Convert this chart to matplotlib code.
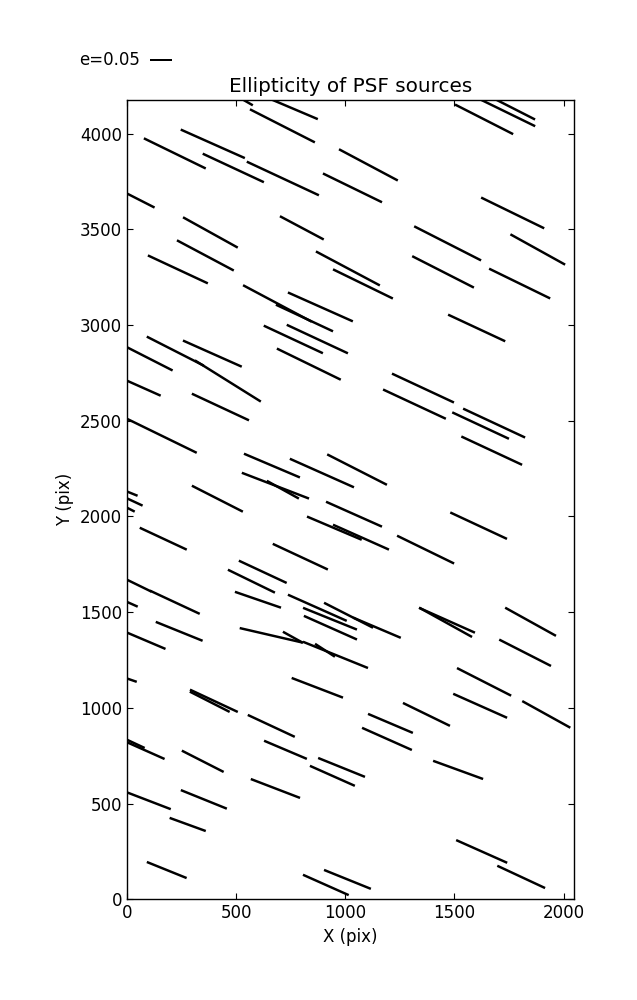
import numpy as np
import matplotlib
matplotlib.use("Agg")
import matplotlib.pyplot as plt

# PSF star positions (pix), ellipticity and whisker angle (deg, on the plot)
x_pix = [478, 746, 712, 393, 219, 487, 714, 1106, 1033, 35,
         382, 801, 359, 233, 1012, 1081, 1636, 1721, 1751, 1767,
         1469, 1882, 1448, 1799, 689, 813, 886, 762, 872, 833,
         221, 391, 462, 83, 56, 428, 1602, 1356, 1317, 1620,
         1682, 1671, 139, 664, 893, 1054, 680, 714, 414, -38,
         -27, -45, 1040, 950, 1072, 166, 794, 622, 570, 1611,
         1368, 28, 219, -38, 600, 872, 1015, 930, 932, 661,
         760, 955, 907, 239, 67, -29, 398, 379, 661, 872,
         1466, 1460, 1849, 1824, 1636, 1618, 1921, 1372, 1207, 1191,
         1, 58, 347, 726, 983, 941, 680, 352, 79, 278,
         182, 911, 1010, 1517, 1625, 1806, 1145]
y_pix = [4213, 4138, 4041, 3947, 3897, 3821, 3766, 3837, 3717, 3667,
         3484, 3508, 3364, 3291, 3296, 3215, 4075, 4122, 4143, 3586,
         3427, 3395, 3278, 3217, 3113, 3037, 3095, 2925, 2927, 2796,
         2864, 2851, 2708, 2836, 2681, 2572, 2985, 2671, 2587, 2475,
         2488, 2344, 2433, 2266, 2227, 2245, 2161, 2140, 2093, 2148,
         2109, 2072, 2012, 1939, 1892, 1884, 1790, 1711, 1662, 1952,
         1827, 1654, 1552, 1573, 1565, 1523, 1484, 1466, 1419, 1379,
         1369, 1277, 1301, 1400, 1361, 1165, 1037, 1032, 906, 1105,
         1458, 1447, 1450, 1288, 1136, 1011, 966, 966, 919, 838,
         833, 791, 721, 781, 689, 645, 579, 522, 524, 391,
         153, 75, 104, 676, 250, 117, 1419]
e_psf = [0.111, 0.136, 0.163, 0.157, 0.154, 0.151, 0.178, 0.149, 0.147, 0.100,
         0.140, 0.111, 0.144, 0.148, 0.162, 0.149, 0.146, 0.162, 0.130, 0.157,
         0.168, 0.140, 0.155, 0.152, 0.174, 0.141, 0.159, 0.146, 0.151, 0.159,
         0.143, 0.144, 0.174, 0.138, 0.105, 0.141, 0.141, 0.153, 0.155, 0.140,
         0.153, 0.150, 0.196, 0.136, 0.157, 0.150, 0.161, 0.082, 0.128, 0.091,
         0.106, 0.088, 0.137, 0.133, 0.137, 0.116, 0.136, 0.118, 0.117, 0.140,
         0.142, 0.092, 0.123, 0.093, 0.109, 0.144, 0.123, 0.130, 0.130, 0.145,
         0.051, 0.157, 0.053, 0.113, 0.116, 0.076, 0.118, 0.100, 0.116, 0.123,
         0.137, 0.135, 0.130, 0.130, 0.136, 0.132, 0.123, 0.117, 0.109, 0.122,
         0.086, 0.122, 0.105, 0.104, 0.113, 0.110, 0.118, 0.111, 0.127, 0.086,
         0.096, 0.112, 0.113, 0.119, 0.125, 0.118, 0.116]
theta = [-30, -23, -27, -24, -26, -25, -25, -28, -26, -27,
         -29, -28, -28, -25, -28, -26, -27, -26, -27, -26,
         -27, -29, -27, -26, -28, -25, -24, -25, -25, -26,
         -27, -24, -32, -27, -24, -25, -25, -25, -25, -25,
         -25, -25, -26, -23, -24, -27, -21, -29, -27, -22,
         -25, -27, -24, -23, -24, -25, -25, -25, -26, -25,
         -26, -26, -25, -24, -19, -24, -27, -22, -24, -13,
         -29, -22, -33, -22, -23, -19, -25, -27, -25, -21,
         -24, -29, -29, -27, -27, -24, -29, -26, -23, -24,
         -25, -24, -27, -23, -22, -24, -21, -22, -21, -20,
         -22, -24, -22, -20, -24, -25, -23]

plt.rcParams.update({
    "font.size": 12,
    "xtick.direction": "in",
    "ytick.direction": "in",
    "xtick.top": True,
    "ytick.right": True,
    "xtick.major.size": 4,
    "ytick.major.size": 4,
    "axes.linewidth": 1.0,
})

th = np.deg2rad(theta)
u = np.array(e_psf) * np.cos(th)
v = np.array(e_psf) * np.sin(th)

fig = plt.figure(figsize=(6.37, 10.0), dpi=100)
ax = fig.add_axes([0.1994, 0.1007, 0.7017, 0.7993])
q = ax.quiver(x_pix, y_pix, u, v, pivot="middle", headwidth=0, headlength=0,
              headaxislength=0, scale=1, scale_units="width", width=0.0055,
              color="k")
ax.quiverkey(q, 0.2355, 0.94, 0.05, "e=0.05", labelpos="W",
             coordinates="figure", fontproperties={"size": 12})
ax.set_xlim(0, 2048)
ax.set_ylim(0, 4176)
ax.set_xticks([0, 500, 1000, 1500, 2000])
ax.set_yticks([0, 500, 1000, 1500, 2000, 2500, 3000, 3500, 4000])
ax.set_xlabel("X (pix)")
ax.set_ylabel("Y (pix)")
ax.set_title("Ellipticity of PSF sources", fontsize=14.4)
fig.savefig("out.png", dpi=100)
